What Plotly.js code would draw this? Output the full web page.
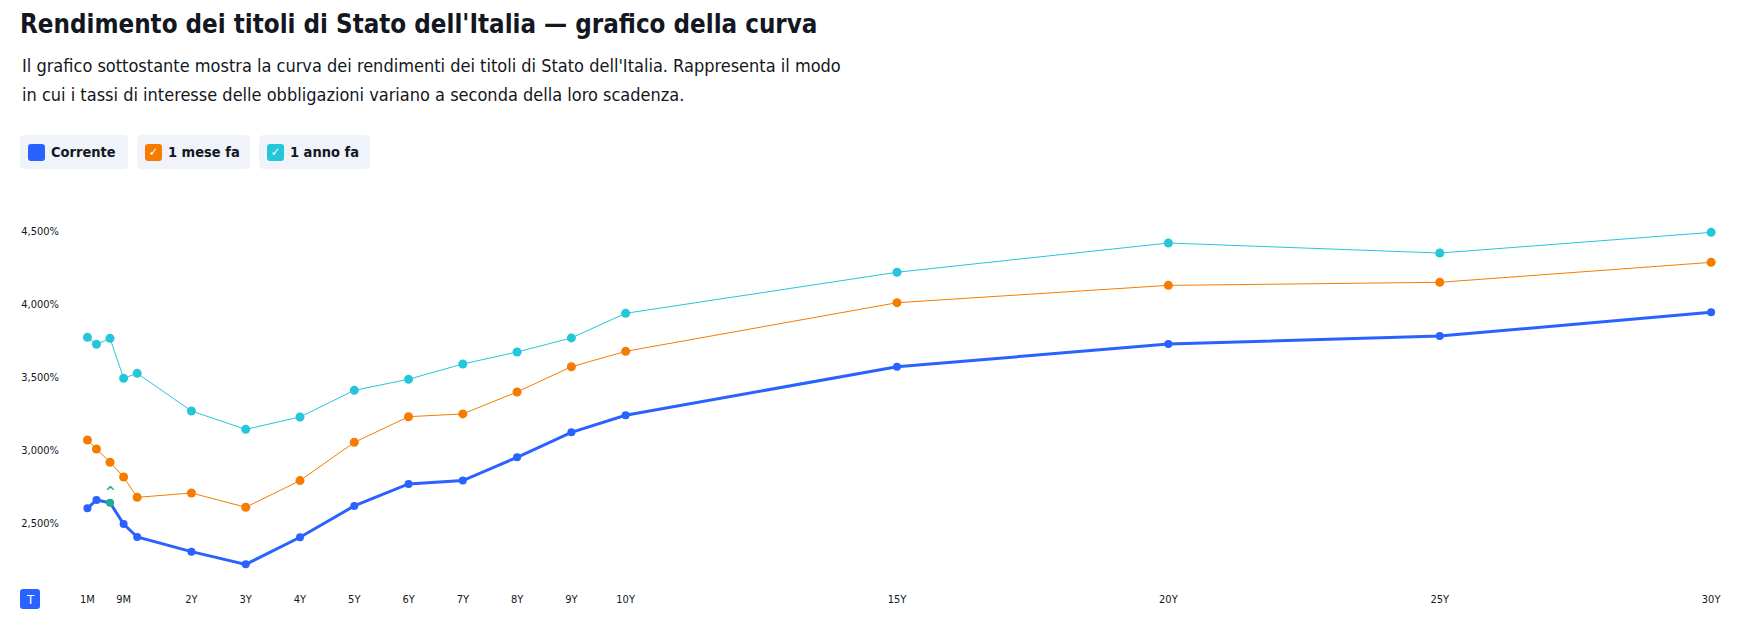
<!DOCTYPE html>
<html>
<head>
<meta charset="utf-8">
<script src="https://cdn.plot.ly/plotly-3.0.1.min.js"></script>
<style>
  html, body { margin: 0; padding: 0; background: #ffffff; }
  #chart { width: 1745px; height: 631px; }
</style>
</head>
<body>
<div id="chart"></div>
<script>
// ---- Data ----
const tenorLabels = ["1M","3M","6M","9M","1Y","2Y","3Y","4Y","5Y","6Y","7Y","8Y","9Y","10Y","15Y","20Y","25Y","30Y"];
const tenorYears  = [1/12, 0.25, 0.5, 0.75, 1, 2, 3, 4, 5, 6, 7, 8, 9, 10, 15, 20, 25, 30];

const corrente  = [2.599, 2.656, 2.637, 2.491, 2.402, 2.301, 2.214, 2.400, 2.615, 2.766, 2.789, 2.949, 3.121, 3.238, 3.571, 3.727, 3.782, 3.945];
const meseFa    = [3.068, 3.006, 2.915, 2.814, 2.674, 2.704, 2.606, 2.789, 3.052, 3.228, 3.247, 3.398, 3.571, 3.677, 4.011, 4.130, 4.151, 4.288];
const annoFa    = [3.773, 3.725, 3.766, 3.492, 3.526, 3.267, 3.141, 3.226, 3.409, 3.485, 3.590, 3.672, 3.769, 3.938, 4.220, 4.421, 4.352, 4.494];

const seriesNames = ["Corrente", "1 mese fa", "1 anno fa"];

const xTickYears  = [1/12, 0.75, 2, 3, 4, 5, 6, 7, 8, 9, 10, 15, 20, 25, 30];
const xTickLabels = ["1M","9M","2Y","3Y","4Y","5Y","6Y","7Y","8Y","9Y","10Y","15Y","20Y","25Y","30Y"];
const yTickVals   = [2.5, 3.0, 3.5, 4.0, 4.5];
const yTickLabels = ["2,500%","3,000%","3,500%","4,000%","4,500%"];

const highlightIndex = 2; // 6M point of "Corrente" marked in green

// ---- Styles ----
const BLUE = "#2962ff", ORANGE = "#f57c00", CYAN = "#26c6da", GREEN = "#22ab94";
const TXT = "#131722";
const FONT = "DejaVu Sans Condensed, DejaVu Sans, sans-serif";

const markerColorsCorrente = corrente.map((v, i) => i === highlightIndex ? GREEN : BLUE);

const traces = [
  { x: tenorYears, y: annoFa, name: seriesNames[2], mode: "lines+markers", type: "scatter",
    line: { color: CYAN, width: 1 }, marker: { color: CYAN, size: 9 } },
  { x: tenorYears, y: meseFa, name: seriesNames[1], mode: "lines+markers", type: "scatter",
    line: { color: ORANGE, width: 1 }, marker: { color: ORANGE, size: 9 } },
  { x: tenorYears, y: corrente, name: seriesNames[0], mode: "lines+markers", type: "scatter",
    line: { color: BLUE, width: 3 }, marker: { color: markerColorsCorrente, size: 8 } }
];

// legend chips
const chips = [
  { x0: 20, x1: 128, color: BLUE, check: "", label: seriesNames[0] },
  { x0: 137, x1: 250, color: ORANGE, check: "✓", label: seriesNames[1] },
  { x0: 259, x1: 370, color: CYAN, check: "✓", label: seriesNames[2] }
];
const W = 1745, H = 631;
const shapes = [];
const annotations = [];

const M = { l: 60, r: 10, t: 190, b: 46 };
const PW = W - M.l - M.r, PH = H - M.t - M.b;
// convert page pixels to paper fraction
const px = v => (v - M.l) / PW;
const py = v => 1 - (v - M.t) / PH;
function pathPaper(x0, y0, x1, y1, r) {
  const X = v => px(v), Y = v => py(v);
  return `M ${X(x0 + r)} ${Y(y0)} L ${X(x1 - r)} ${Y(y0)} Q ${X(x1)} ${Y(y0)} ${X(x1)} ${Y(y0 + r)} L ${X(x1)} ${Y(y1 - r)} Q ${X(x1)} ${Y(y1)} ${X(x1 - r)} ${Y(y1)} L ${X(x0 + r)} ${Y(y1)} Q ${X(x0)} ${Y(y1)} ${X(x0)} ${Y(y1 - r)} L ${X(x0)} ${Y(y0 + r)} Q ${X(x0)} ${Y(y0)} ${X(x0 + r)} ${Y(y0)} Z`;
}
chips.forEach(c => {
  shapes.push({ type: "path", xref: "paper", yref: "paper", path: pathPaper(c.x0, 135, c.x1, 169, 5),
    fillcolor: "#f0f3fa", line: { width: 0 }, layer: "below" });
  shapes.push({ type: "path", xref: "paper", yref: "paper", path: pathPaper(c.x0 + 8, 144, c.x0 + 25, 161, 3),
    fillcolor: c.color, line: { width: 0 } });
  if (c.check) annotations.push({ xref: "paper", yref: "paper", x: px(c.x0 + 16.5), y: py(152.5),
    text: c.check, showarrow: false, font: { family: FONT, size: 12, color: "#ffffff" }, xanchor: "center", yanchor: "middle" });
  annotations.push({ xref: "paper", yref: "paper", x: px(c.x0 + 29), y: py(152.5), text: "<b>" + c.label + "</b>",
    showarrow: false, font: { family: FONT, size: 14.5, color: TXT }, xanchor: "left", yanchor: "middle" });
});
// subtitle
annotations.push({ xref: "paper", yref: "paper", x: px(20), y: py(65), xanchor: "left", yanchor: "middle", showarrow: false,
  text: "Il grafico sottostante mostra la curva dei rendimenti dei titoli di Stato dell'Italia. Rappresenta il modo",
  font: { family: FONT, size: 18, color: TXT } });
annotations.push({ xref: "paper", yref: "paper", x: px(20), y: py(94), xanchor: "left", yanchor: "middle", showarrow: false,
  text: "in cui i tassi di interesse delle obbligazioni variano a seconda della loro scadenza.",
  font: { family: FONT, size: 18, color: TXT } });
// T badge
shapes.push({ type: "path", xref: "paper", yref: "paper", path: pathPaper(20, 589, 40, 609, 3), fillcolor: BLUE, line: { width: 0 } });
annotations.push({ xref: "paper", yref: "paper", x: px(30), y: py(599), text: "T", showarrow: false,
  font: { family: FONT, size: 13, color: "#ffffff" }, xanchor: "center", yanchor: "middle" });
// caret over highlighted point
annotations.push({ xref: "x", yref: "y", x: tenorYears[highlightIndex], y: corrente[highlightIndex], text: "<b>^</b>",
  showarrow: false, yshift: 11, font: { family: FONT, size: 14, color: GREEN } });

const layout = {
  width: W, height: H,
  margin: M,
  paper_bgcolor: "#ffffff", plot_bgcolor: "#ffffff",
  showlegend: false,
  title: { text: "<b>Rendimento dei titoli di Stato dell'Italia — grafico della curva</b>",
    xref: "container", yref: "container", x: 20 / W, xanchor: "left", y: 1 - 24 / H, yanchor: "middle",
    font: { family: FONT, size: 25.7, color: TXT } },
  xaxis: { range: [-0.422, 30.44], tickmode: "array", tickvals: xTickYears, ticktext: xTickLabels,
    showgrid: false, zeroline: false, showline: false, ticks: "", ticklabelstandoff: 6,
    tickfont: { family: FONT, size: 11, color: TXT } },
  yaxis: { range: [2.0721, 4.785], tickmode: "array", tickvals: yTickVals, ticktext: yTickLabels,
    showgrid: false, zeroline: false, showline: false, ticks: "",
    tickfont: { family: FONT, size: 11, color: TXT } },
  shapes: shapes,
  annotations: annotations
};
Plotly.newPlot("chart", traces, layout, { displayModeBar: false, staticPlot: true });
</script>
</body>
</html>
